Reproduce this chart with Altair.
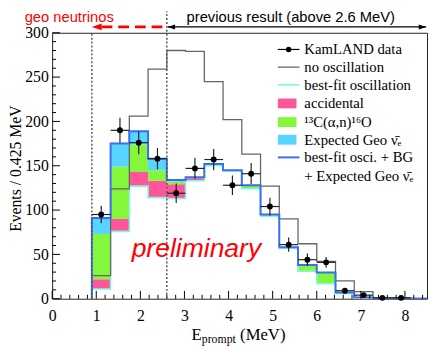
import altair as alt
import pandas as pd

# ---------------- data ----------------
edges = [0.9, 1.325, 1.75, 2.175, 2.6, 3.025, 3.45, 3.875, 4.3, 4.725,
         5.15, 5.575, 6.0, 6.425, 6.85, 7.275, 7.7, 8.125, 8.55]
reactor = [11, 76, 127, 114, 113, 133, 150, 144, 124, 93, 57, 31, 17, 6, 1.5, 0.5, 0.2, 0]
accidental = [11, 14, 16, 19, 16, 3, 1, 0.5, 0, 0, 0, 0, 0.5, 0, 0, 0, 0, 0]
c13 = [51, 59, 31, 12, 3, 1, 1, 0.5, 4, 2, 1, 7, 12, 1, 0, 0, 0, 0]
geo = [18, 26, 15, 13, 2, 0, 0, 0, 0, 0, 0, 0, 0, 0, 0, 0, 0, 0]
no_osc = [26, 124, 206, 259, 280, 279, 245, 202, 163, 127, 90, 62, 42, 20, 8, 1, 1, 0.5]
data_counts = [95, 190, 176, 158, 119, 147, 157, 128, 141, 104, 61, 44, 41, 9, 4, 1, 1]
data_err = [10, 14, 13, 12, 11, 12, 12, 11, 12, 10, 8, 7, 6, 3, 2, 1, 1]

x_major = [0, 1, 2, 3, 4, 5, 6, 7, 8]
x_minor = [round(0.2 * k, 1) for k in range(43) if k % 5 != 0]
y_major = [0, 50, 100, 150, 200, 250, 300]
y_minor = [v for v in range(0, 301, 10) if v % 50 != 0]

legend_labels = ["KamLAND data", "no oscillation", "best-fit oscillation", "accidental",
                 "\u00b9\u00b3C(\u03b1,n)\u00b9\u2076O", "Expected Geo \u03bd\u0304\u2091",
                 "best-fit osci. + BG", "+ Expected Geo \u03bd\u0304\u2091"]

PINK = "#ff559b"
GREEN = "#84f73a"
GEO = "#58d5ff"
BLUE = "#3a6cf6"
CYAN = "#80f7df"
GRAY = "#666666"
SERIF = "Liberation Serif"
SANS = "Liberation Sans"

lo = edges[:-1]
hi = edges[1:]
nb = len(lo)

rows = []
for i in range(nb):
    b0 = reactor[i]
    b1 = b0 + accidental[i]
    b2 = b1 + c13[i]
    b3 = b2 + geo[i]
    rows.append(dict(lo=lo[i], hi=hi[i], y0=b0, y1=b1, comp="acc"))
    rows.append(dict(lo=lo[i], hi=hi[i], y0=b1, y1=b2, comp="c13"))
    rows.append(dict(lo=lo[i], hi=hi[i], y0=b2, y1=b3, comp="geo"))
stack = pd.DataFrame(rows)
total = [reactor[i] + accidental[i] + c13[i] + geo[i] for i in range(nb)]


def step_df(vals):
    xs_ = [edges[0]] + list(lo) + [edges[-1], edges[-1]]
    ys_ = [0] + list(vals) + [vals[-1], 0]
    return pd.DataFrame({"x": xs_, "y": ys_, "i": list(range(len(xs_)))})


nd = len(data_counts)
pts = pd.DataFrame({
    "lo": lo[:nd], "hi": hi[:nd],
    "c": [(lo[i] + hi[i]) / 2 for i in range(nd)],
    "n": data_counts,
    "ylo": [data_counts[i] - data_err[i] for i in range(nd)],
    "yhi": [data_counts[i] + data_err[i] for i in range(nd)],
})

xs = alt.Scale(domain=[0, 8.5], nice=False, zero=False)
ys = alt.Scale(domain=[0, 300], nice=False, zero=False)
xaxis = alt.Axis(values=x_major, title=None, grid=False, ticks=False, domain=False,
                 labelFont=SERIF, labelFontSize=16, labelColor="black",
                 labelPadding=9, labelFlush=False, labelOverlap=False)
yaxis = alt.Axis(values=y_major, title="Events / 0.425 MeV", grid=False, ticks=False,
                 domain=False, labelFont=SERIF, labelFontSize=16, labelColor="black",
                 labelPadding=4, labelFlush=False, labelOverlap=False,
                 titleFont=SERIF, titleFontSize=16, titleFontWeight="normal",
                 titleColor="black", titleAngle=270, titleX=-37, titleY=138,
                 titleAlign="center", titleBaseline="middle")

X = lambda f: alt.X(f, scale=xs, axis=xaxis)
Y = lambda f: alt.Y(f, scale=ys, axis=yaxis)

fills = alt.Chart(stack).mark_rect(clip=True, strokeWidth=0).encode(
    x=X("lo:Q"), x2="hi:Q", y=Y("y0:Q"), y2="y1:Q",
    color=alt.Color("comp:N", scale=alt.Scale(domain=["acc", "c13", "geo"],
                                              range=[PINK, GREEN, GEO]), legend=None))


def step_line(vals, color, width):
    return alt.Chart(step_df(vals)).mark_line(
        interpolate="step-after", color=color, strokeWidth=width, clip=True).encode(
        x=X("x:Q"), y=Y("y:Q"), order="i:Q")


react_line = step_line(reactor, CYAN, 1.6)
noosc_line = step_line(no_osc, GRAY, 1.3)
total_line = step_line(total, BLUE, 2)

tick_y_major = alt.Chart(pd.DataFrame({"v": y_major})).mark_rule(color="black").encode(
    y=Y("v:Q"), x=alt.value(0), x2=alt.value(8))
tick_y_minor = alt.Chart(pd.DataFrame({"v": y_minor})).mark_rule(color="black").encode(
    y=Y("v:Q"), x=alt.value(0), x2=alt.value(4))
tick_x_major = alt.Chart(pd.DataFrame({"v": x_major})).mark_rule(color="black").encode(
    x=X("v:Q"), y=alt.value(271), y2=alt.value(263))
tick_x_minor = alt.Chart(pd.DataFrame({"v": x_minor})).mark_rule(color="black").encode(
    x=X("v:Q"), y=alt.value(271), y2=alt.value(267))

dot1 = alt.Chart(pd.DataFrame({"v": [0.9]})).mark_rule(
    color="#555555", strokeWidth=1.5, strokeDash=[2, 2]).encode(
    x=X("v:Q"), y=alt.value(271), y2=alt.value(0))
dot2 = alt.Chart(pd.DataFrame({"v": [2.6]})).mark_rule(
    color="#555555", strokeWidth=1.5, strokeDash=[2, 2]).encode(
    x=X("v:Q"), y=alt.value(271), y2=alt.value(-22))

err_v = alt.Chart(pts).mark_rule(color="#222222", strokeWidth=1.2).encode(
    x=X("c:Q"), y=Y("ylo:Q"), y2="yhi:Q")
err_h = alt.Chart(pts).mark_rule(color="#222222", strokeWidth=1.2).encode(
    x=X("lo:Q"), x2="hi:Q", y=Y("n:Q"))
dots = alt.Chart(pts).mark_circle(size=36, color="black", opacity=1).encode(
    x=X("c:Q"), y=Y("n:Q"))

# arrows above the plot
ARR_Y = -6
red_shaft = alt.Chart(pd.DataFrame({"a": [1.12], "b": [2.6]})).mark_rule(
    color="#ff0000", strokeWidth=3, strokeDash=[11, 6]).encode(
    x=X("a:Q"), x2="b:Q", y=alt.value(ARR_Y))
red_head = alt.Chart(pd.DataFrame({"a": [0.9]})).mark_point(
    shape="M0,0L2.5,-0.85L2.5,0.85Z", filled=True, size=64, color="#ff0000",
    opacity=1, strokeWidth=0).encode(x=X("a:Q"), y=alt.value(ARR_Y))
blk_shaft = alt.Chart(pd.DataFrame({"a": [2.62], "b": [8.48]})).mark_rule(
    color="black", strokeWidth=1.5).encode(x=X("a:Q"), x2="b:Q", y=alt.value(ARR_Y))
blk_head_l = alt.Chart(pd.DataFrame({"a": [2.62]})).mark_point(
    shape="M0,0L2.5,-0.85L2.5,0.85Z", filled=True, size=36, color="black",
    opacity=1, strokeWidth=0).encode(x=X("a:Q"), y=alt.value(ARR_Y))
blk_head_r = alt.Chart(pd.DataFrame({"a": [8.48]})).mark_point(
    shape="M0,0L-2.5,-0.85L-2.5,0.85Z", filled=True, size=36, color="black",
    opacity=1, strokeWidth=0).encode(x=X("a:Q"), y=alt.value(ARR_Y))

geo_txt = alt.Chart(pd.DataFrame({"t": ["geo neutrinos"]})).mark_text(
    align="left", baseline="alphabetic", font=SANS, fontSize=15, color="#ff0000").encode(
    x=alt.value(-28), y=alt.value(-11), text="t:N")
prev_txt = alt.Chart(pd.DataFrame({"t": ["previous result (above 2.6 MeV)"]})).mark_text(
    align="left", baseline="alphabetic", font=SANS, fontSize=15, color="black").encode(
    x=alt.value(137), y=alt.value(-11), text="t:N")
prelim = alt.Chart(pd.DataFrame({"t": ["preliminary"]})).mark_text(
    align="left", baseline="alphabetic", font=SANS, fontSize=27, fontStyle="italic",
    color="#ff0000").encode(x=alt.value(81), y=alt.value(229), text="t:N")

# x-axis title: E_prompt (MeV)
t_E = alt.Chart(pd.DataFrame({"t": ["E"]})).mark_text(
    align="left", baseline="alphabetic", font=SERIF, fontSize=17, color="black").encode(
    x=alt.value(142), y=alt.value(313), text="t:N")
t_sub = alt.Chart(pd.DataFrame({"t": ["prompt"]})).mark_text(
    align="left", baseline="alphabetic", font=SERIF, fontSize=12, color="black").encode(
    x=alt.value(152.5), y=alt.value(316), text="t:N")
t_unit = alt.Chart(pd.DataFrame({"t": ["(MeV)"]})).mark_text(
    align="left", baseline="alphabetic", font=SERIF, fontSize=17, color="black").encode(
    x=alt.value(191.5), y=alt.value(313), text="t:N")

# legend
leg_y = [17, 35, 53, 72, 91, 109, 127, 146]
leg_txt = alt.Chart(pd.DataFrame({"label": legend_labels, "py": leg_y})).mark_text(
    align="left", baseline="middle", font=SERIF, fontSize=15, color="black").encode(
    x=alt.value(257), y=alt.Y("py:Q", scale=None), text="label:N")
leg_lines = alt.Chart(pd.DataFrame({
    "py": [leg_y[0], leg_y[1], leg_y[2], leg_y[6]],
    "col": ["black", GRAY, CYAN, BLUE],
    "w": [1.2, 1.3, 1.6, 2]})).mark_rule().encode(
    x=alt.value(230), x2=alt.value(252), y=alt.Y("py:Q", scale=None),
    color=alt.Color("col:N", scale=None), strokeWidth=alt.StrokeWidth("w:Q", scale=None))
leg_dot = alt.Chart(pd.DataFrame({"py": [leg_y[0]]})).mark_circle(
    size=30, color="black", opacity=1).encode(x=alt.value(241), y=alt.Y("py:Q", scale=None))
leg_rect = alt.Chart(pd.DataFrame({
    "a": [leg_y[3] - 5, leg_y[4] - 5, leg_y[5] - 5],
    "b": [leg_y[3] + 5, leg_y[4] + 5, leg_y[5] + 5],
    "col": [PINK, GREEN, GEO]})).mark_rect(strokeWidth=0).encode(
    x=alt.value(230), x2=alt.value(249), y=alt.Y("a:Q", scale=None), y2="b:Q",
    color=alt.Color("col:N", scale=None))

chart = alt.layer(
    fills, react_line, noosc_line, total_line,
    tick_y_major, tick_y_minor, tick_x_major, tick_x_minor,
    dot1, dot2, err_v, err_h, dots,
    red_shaft, red_head, blk_shaft, blk_head_l, blk_head_r,
    geo_txt, prev_txt, prelim, t_E, t_sub, t_unit,
    leg_lines, leg_dot, leg_rect, leg_txt,
).properties(
    width=382, height=271,
    autosize=alt.AutoSizeParams(type="none"),
    padding={"left": 45, "top": 22, "right": 1, "bottom": 48},
    background="white",
).configure_view(stroke="#222222", strokeWidth=1)

chart.save("out.html", embed_options={"renderer": "svg", "actions": False})
